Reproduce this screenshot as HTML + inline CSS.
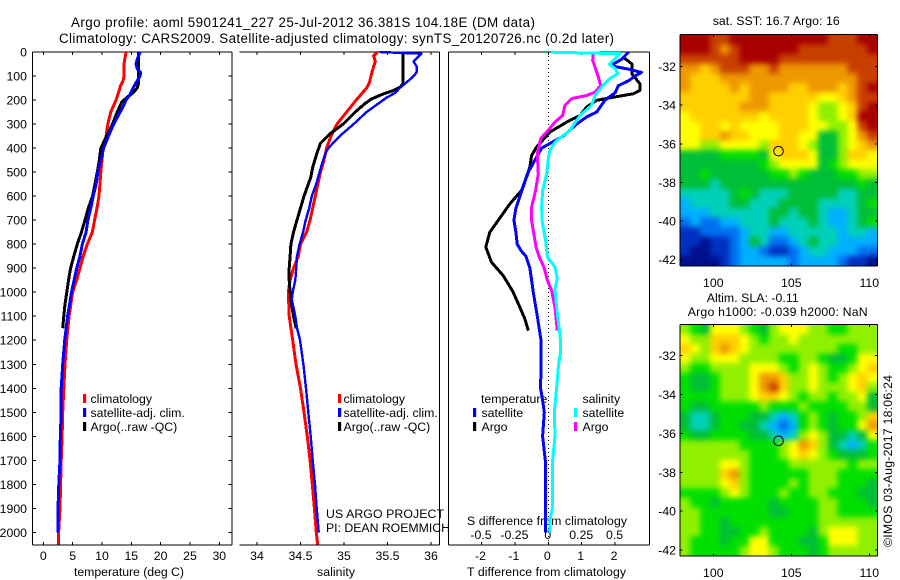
<!DOCTYPE html>
<html>
<head>
<meta charset="utf-8">
<title>Argo profile 5901241_227</title>
<style>
html,body{margin:0;padding:0;background:#fff;}
svg{display:block;}
text{font-family:"Liberation Sans",Arial,sans-serif;font-size:12.3px;fill:#000;}
</style>
</head>
<body>
<svg id="fig" width="900" height="580" viewBox="0 0 900 580" xmlns="http://www.w3.org/2000/svg">
<defs>
<filter id="smooth" filterUnits="userSpaceOnUse" x="640" y="0" width="260" height="580" color-interpolation-filters="sRGB"><feGaussianBlur stdDeviation="3"/></filter>
<clipPath id="clip-sst-map"><rect x="680" y="34.3" width="197.3" height="231.7"/></clipPath>
<clipPath id="clip-sla-map"><rect x="680" y="324.3" width="197.3" height="231.7"/></clipPath>
</defs>
<rect x="0" y="0" width="900" height="580" fill="#fff"/>
<text x="71" y="27" textLength="464" style="font-size:13.4px">Argo profile: aoml 5901241_227 25-Jul-2012 36.381S 104.18E (DM data)</text>
<text x="59" y="43" textLength="555" style="font-size:13.4px">Climatology: CARS2009. Satellite-adjusted climatology: synTS_20120726.nc (0.2d later)</text>
<text x="74" y="576" textLength="110">temperature (deg C)</text>
<text x="317" y="576" textLength="38">salinity</text>
<text x="467" y="576" textLength="159">T difference from climatology</text>
<text x="467" y="525" textLength="160">S difference from climatology</text>
<text x="326" y="518" textLength="118">US ARGO PROJECT</text>
<text x="326" y="532" textLength="124">PI: DEAN ROEMMICH</text>
<text x="90.5" y="403">climatology</text>
<text x="90.5" y="417">satellite-adj. clim.</text>
<text x="90.5" y="431">Argo(..raw -QC)</text>
<text x="343.5" y="403">climatology</text>
<text x="343.5" y="417">satellite-adj. clim.</text>
<text x="343.5" y="431">Argo(..raw -QC)</text>
<text x="481" y="403">temperature</text>
<text x="481.5" y="417">satellite</text>
<text x="481.5" y="431">Argo</text>
<text x="582.5" y="403">salinity</text>
<text x="582.5" y="417">satellite</text>
<text x="582.5" y="431">Argo</text>
<text x="712.7" y="25" textLength="127">sat. SST: 16.7 Argo: 16</text>
<text x="706.7" y="302" textLength="92">Altim. SLA: -0.11</text>
<text x="687.7" y="316" textLength="180">Argo h1000: -0.039 h2000: NaN</text>
<text transform="translate(892,547) rotate(-90)" textLength="172">©IMOS 03-Aug-2017 18:06:24</text>
</svg>
<script>
// ---------- tick labels ----------
const depthTicks = [0,100,200,300,400,500,600,700,800,900,1000,1100,1200,1300,1400,1500,1600,1700,1800,1900,2000];
const tempTicks = [0,5,10,15,20,25,30];
const salTicks = [34,34.5,35,35.5,36];
const tDiffTicks = [-2,-1,0,1,2];
const sDiffTicks = [-0.5,-0.25,0,0.25,0.5];
const sDiffLabels = ['-0.5','-0.25','0','0.25','0.5'];
const lonTicks = [100,105,110];
const latTicks = [-32,-34,-36,-38,-40,-42];
const floatLon = [104.18];
const floatLat = [-36.381];

// ---------- temperature profiles ----------
const tempClimDepth = [0,50,100,120,140,200,250,300,350,400,450,500,600,650,700,750,800,850,900,950,1000,1100,1200,1300,1400,1500,1600,1700,1800,1900,2000,2050];
const tempClimValues = [14.1,13.75,13.75,13.6,13.2,12.4,11.5,11.0,10.7,10.2,10.0,9.8,9.5,9.15,8.75,8.35,7.5,6.8,6.25,5.7,5.0,4.4,3.98,3.7,3.5,3.3,3.2,3.05,2.95,2.85,2.6,2.55];
const tempSatDepth = [0,30,50,70,85,100,120,150,180,200,220,250,300,350,400,450,500,550,600,650,700,750,800,850,900,1000,1100,1200,1300,1400,1500,1600,1700,1800,1900,2000];
const tempSatValues = [16.5,16.0,15.8,16.0,16.6,16.5,16.0,15.3,14.7,14.1,13.75,13.1,12.0,11.1,10.3,9.8,9.3,9.0,8.5,8.1,7.6,7.3,6.65,6.25,5.7,4.8,4.15,3.65,3.3,3.05,3.05,2.9,2.85,2.65,2.5,2.5];
const tempArgoDepth = [0,130,150,170,190,210,250,300,350,400,450,500,600,650,700,750,800,850,900,950,1000,1050,1100,1150];
const tempArgoValues = [16.25,16.25,16.0,15.3,14.2,13.35,12.6,11.8,10.8,9.8,9.55,9.2,8.4,7.67,7.1,6.5,5.8,5.2,4.65,4.3,4.0,3.7,3.5,3.3];

// ---------- salinity profiles ----------
const salClimDepth = [0,15,40,60,100,130,150,200,250,300,350,400,450,500,550,600,650,700,750,800,850,900,950,1000,1050,1100,1200,1300,1400,1500,1600,1700,1800,1900,2000,2050];
const salClimValues = [35.39,35.34,35.36,35.34,35.31,35.29,35.26,35.14,35.03,34.92,34.85,34.80,34.77,34.73,34.70,34.67,34.64,34.61,34.57,34.50,34.475,34.42,34.38,34.36,34.365,34.37,34.41,34.448,34.50,34.54,34.578,34.61,34.636,34.66,34.682,34.697];
const salSatDepth = [0,7,40,60,85,100,120,150,170,190,220,250,300,350,400,420,450,500,550,600,650,700,750,800,850,900,950,1000,1030,1100,1150,1200,1300,1400,1500,1600,1700,1800,1900,2000];
const salSatValues = [35.41,35.89,35.80,35.835,35.835,35.80,35.74,35.64,35.59,35.49,35.375,35.26,35.11,34.95,34.82,34.79,34.76,34.72,34.68,34.63,34.60,34.56,34.53,34.49,34.46,34.45,34.44,34.41,34.40,34.44,34.46,34.494,34.533,34.563,34.59,34.617,34.64,34.667,34.686,34.709];
const salArgoDepth = [0,130,145,160,175,195,215,250,300,340,380,420,480,520,570,600,650,700,750,800,850,900,950,1000,1030,1100,1150];
const salArgoValues = [35.68,35.68,35.65,35.57,35.45,35.32,35.24,35.13,34.99,34.84,34.73,34.69,34.64,34.62,34.57,34.54,34.50,34.46,34.42,34.39,34.38,34.37,34.37,34.38,34.39,34.42,34.45];

// ---------- differences from climatology ----------
const tDiffSatDepth = [0,30,50,60,70,85,100,120,140,170,200,250,270,300,350,400,450,500,600,650,700,750,800,830,850,900,1000,1100,1200,1300,1400,1450,1500,1600,1700,1800,1900,2000];
const tDiffSatValues = [2.4,2.2,1.95,1.97,2.35,2.79,2.6,2.4,2.1,2.0,1.7,1.45,1.15,0.85,0.45,-0.2,-0.4,-0.6,-0.85,-0.97,-1.03,-0.97,-0.93,-0.8,-0.67,-0.55,-0.45,-0.33,-0.22,-0.22,-0.23,-0.17,-0.12,-0.17,-0.09,-0.08,-0.08,-0.08];
const tDiffArgoDepth = [21,49,90,132,160,174,188,201,229,264,292,333,396,431,479,576,632,701,750,812,875,931,1000,1063,1111,1160];
const tDiffArgoValues = [2.23,2.5,2.5,2.74,2.74,2.54,1.95,1.45,1.15,0.95,0.55,0.05,-0.35,-0.5,-0.55,-0.8,-1.15,-1.5,-1.75,-1.87,-1.7,-1.35,-1.05,-0.85,-0.7,-0.6];
const sDiffSatDepth = [1,7,28,51,69,90,111,139,181,222,264,326,375,410,444,507,576,646,708,785,854,896,944,986,1063,1200,1250,1300,1400,1500,1600,1700,1800,1900,1950,2000];
const sDiffSatValues = [0.02,0.536,0.5,0.457,0.5,0.52,0.46,0.41,0.35,0.324,0.237,0.162,0.05,0.012,0,-0.012,-0.042,-0.05,-0.045,-0.02,-0.007,0.05,0.067,0.05,0.062,0.092,0.092,0.077,0.062,0.045,0.05,0.032,0.03,0.03,0.0125,0.0125];
const sDiffArgoDepth = [7,35,63,104,139,167,181,194,222,264,292,333,361,424,507,576,646,701,743,812,854,896,951,993,1063,1160];
const sDiffArgoValues = [0.337,0.332,0.35,0.374,0.392,0.35,0.287,0.175,0.125,0.107,0.05,-0.012,-0.057,-0.082,-0.075,-0.095,-0.125,-0.125,-0.112,-0.092,-0.067,-0.032,-0.007,0.025,0.05,0.067];

// ---------- map grids (colour-scale level, north row first) ----------
const sstGrid = [
[12,12,12,11,11,12,12,12,12,12,12,12,12,12,12,11,11,11,12,12],
[12,12,12,11,10,11,12,12,12,12,12,12,11,11,11,11,11,11,11,12],
[11,11,11,11,11,11,12,12,12,12,11,11,11,11,11,11,11,11,11,11],
[10,10,9,10,11,11,11,10,10,11,10,10,10,10,10,10,10,11,11,11],
[10,9,9,9,10,10,10,10,10,10,10,10,10,10,10,10,10,10,11,11],
[10,9,9,9,9,10,9,10,10,10,10,9,9,10,10,10,9,10,11,12],
[9,9,9,9,9,9,9,10,10,9,9,9,9,9,8,8,9,10,11,11],
[9,9,9,9,9,9,10,10,10,9,9,9,9,8,7,7,8,9,11,12],
[8,9,9,9,9,9,9,9,8,9,9,9,9,8,7,7,8,9,12,12],
[8,8,9,9,8,9,8,8,8,8,9,9,9,8,8,7,7,8,11,12],
[8,8,9,9,10,9,9,8,8,8,9,9,8,8,5,5,7,8,10,11],
[8,8,7,7,8,8,8,8,7,9,9,9,8,7,5,5,7,8,9,10],
[5,5,5,5,6,6,6,6,5,8,9,9,9,8,5,5,7,9,9,8],
[5,5,5,5,5,5,5,5,6,7,8,8,8,8,5,6,7,8,8,8],
[5,5,6,5,5,5,5,5,5,6,6,7,6,5,5,5,6,6,7,7],
[5,5,5,4,5,5,5,5,5,5,5,5,5,5,5,5,5,5,6,5],
[4,4,4,4,4,5,6,5,4,4,4,5,5,5,5,5,4,4,5,5],
[3,4,4,4,4,5,5,4,4,4,5,5,5,5,4,4,4,4,5,6],
[3,3,3,4,4,4,4,4,4,5,5,4,5,5,4,3,3,4,5,5],
[2,3,2,2,3,3,4,4,4,5,4,4,4,5,4,3,3,4,5,6],
[1,1,2,2,2,2,3,4,4,3,3,4,4,4,4,4,3,4,4,3],
[1,1,0,1,1,2,3,5,4,2,2,3,4,5,4,4,3,3,3,3],
[1,0,0,1,1,2,3,3,2,1,1,2,3,4,4,3,3,3,2,2],
[0,0,0,0,1,2,3,3,3,3,3,2,3,3,3,3,2,1,1,0]
];
const slaGrid = [
[7,6,5,8,8,8,7,6,5,7,8,8,8,7,7,6,6,7,7,7],
[8,7,7,9,9,9,8,7,6,7,7,8,7,7,7,7,7,7,7,7],
[9,8,7,9,10,9,8,7,7,7,7,7,7,7,7,7,6,6,7,7],
[8,7,7,8,8,8,7,7,7,7,6,6,7,7,6,5,5,6,8,8],
[7,6,6,7,7,7,7,8,8,8,7,6,7,8,7,6,6,7,8,9],
[6,5,5,6,7,7,7,8,10,10,9,7,7,8,7,6,7,8,9,8],
[6,5,5,6,7,7,7,8,10,11,9,7,7,8,7,7,7,8,9,7],
[6,6,6,6,7,7,7,8,9,9,8,7,6,7,7,6,7,7,8,5],
[6,5,5,6,6,6,6,6,7,6,6,6,7,6,6,6,6,7,7,5],
[5,4,4,5,6,6,6,5,5,4,3,4,6,7,6,5,6,6,7,9],
[5,4,4,5,6,6,5,5,4,3,2,3,6,7,6,5,6,6,8,10],
[6,5,5,6,6,6,6,5,5,4,3,4,7,8,7,5,5,4,5,8],
[7,7,7,7,7,7,6,6,6,6,7,8,10,9,7,5,4,3,4,6],
[7,7,7,7,7,7,7,6,6,6,7,8,9,8,7,6,5,5,5,6],
[7,7,7,7,8,8,7,6,6,6,6,7,7,7,7,7,7,6,7,7],
[7,7,7,7,9,10,7,6,6,6,6,6,6,7,7,7,6,6,6,6],
[7,7,7,7,8,9,7,6,6,6,6,7,6,7,7,7,6,6,6,5],
[6,6,6,6,7,8,7,6,6,6,7,6,6,7,7,6,6,6,5,5],
[7,6,6,5,6,6,6,6,6,5,6,6,6,6,7,7,6,6,6,5],
[7,7,6,6,6,6,6,6,6,5,5,6,6,6,7,7,6,6,6,6],
[7,7,6,6,5,6,6,6,6,6,6,6,6,6,7,7,7,7,7,7],
[7,7,6,6,5,5,6,6,7,6,6,6,6,5,7,8,8,8,7,7],
[7,6,6,6,5,6,6,8,8,6,6,6,5,5,6,8,8,8,7,7],
[7,6,6,6,6,6,7,8,8,7,6,6,6,5,6,7,7,7,7,7]
];
const colourScale = ['#000f8c','#0030c0','#0070f0','#00b0ff','#00d0b8','#00be38','#00e000','#90f000','#ffff00','#ffd000','#ee9800','#c84000','#a80000'];

// ---------- scales ----------
const SVGNS = 'http://www.w3.org/2000/svg';
const fig = document.getElementById('fig');
const PLOT_TOP = 52, PLOT_BOTTOM = 545;
function yDepth(d){ return PLOT_TOP + d * 0.2402; }
function xTemp(t){ return 43.3 + t * 5.867; }
function xSal(s){ return 257 + (s - 34) * 87; }
function xTDiff(t){ return 548.3 + t * 33.4; }
function xSDiff(s){ return 548.3 + s * 133.6; }
function xLon(lon){ return 713.3 + (lon - 100) * 15.6; }
function yLatTop(lat){ return 66.7 + (-32 - lat) * 19.27; }
function yLatBottom(lat){ return 355.7 + (-32 - lat) * 19.43; }

function make(tag, name, parent){
  const el = document.createElementNS(SVGNS, tag);
  
  
  (parent || fig).appendChild(el);
  return el;
}
function seg(name, x1, y1, x2, y2, w, parent){
  const l = make('line', name, parent);
  l.setAttribute('x1', x1); l.setAttribute('y1', y1);
  l.setAttribute('x2', x2); l.setAttribute('y2', y2);
  l.setAttribute('stroke', '#000');
  l.setAttribute('stroke-width', w || 1);
  l.setAttribute('shape-rendering', 'crispEdges');
  return l;
}
function label(name, str, x, y, anchor){
  const t = make('text', name);
  t.setAttribute('x', x); t.setAttribute('y', y);
  t.setAttribute('text-anchor', anchor || 'middle');
  t.textContent = str;
  return t;
}
function profile(name, depths, values, xFn, colour, width){
  const p = make('polyline', name);
  p.setAttribute('points', depths.map((d, i) => xFn(values[i]).toFixed(1) + ',' + yDepth(d).toFixed(1)).join(' '));
  p.setAttribute('fill', 'none');
  p.setAttribute('stroke', colour);
  p.setAttribute('stroke-width', width);
  p.setAttribute('stroke-linejoin', 'round');
  p.setAttribute('shape-rendering', 'crispEdges');
}
function key(name, x, y, colour){
  const r = make('rect', name);
  r.setAttribute('x', x); r.setAttribute('y', y);
  r.setAttribute('width', 3.2); r.setAttribute('height', 9);
  r.setAttribute('fill', colour);
}
function heatmap(name, clipId, grid, x0, y0, w, h){
  const clip = make('g', name + '-clip');
  clip.setAttribute('clip-path', 'url(#' + clipId + ')');
  const g = make('g', name, clip);
  g.setAttribute('filter', 'url(#smooth)');
  const rows = grid.length, cols = grid[0].length;
  const bleed = 16;
  grid.forEach((row, r) => row.forEach((v, c) => {
    const cell = make('rect', name + '-cell', g);
    const x1 = x0 + c * w / cols - (c === 0 ? bleed : 0);
    const x2 = x0 + (c + 1) * w / cols + (c === cols - 1 ? bleed : 0);
    const y1 = y0 + r * h / rows - (r === 0 ? bleed : 0);
    const y2 = y0 + (r + 1) * h / rows + (r === rows - 1 ? bleed : 0);
    cell.setAttribute('x', x1.toFixed(2));
    cell.setAttribute('y', y1.toFixed(2));
    cell.setAttribute('width', (x2 - x1 + 0.4).toFixed(2));
    cell.setAttribute('height', (y2 - y1 + 0.4).toFixed(2));
    cell.setAttribute('fill', colourScale[Math.max(0, Math.min(colourScale.length - 1, Math.round(v)))]);
  }));
}
function frame(name, x1, y1, x2, y2, showLeft){
  seg(name + '-top', x1, y1, x2, y1);
  seg(name + '-bottom', x1, y2, x2, y2);
  seg(name + '-right', x2, y1, x2, y2);
  if (showLeft) seg(name + '-left', x1, y1, x1, y2);
}

// ---------- panel 1: temperature ----------
frame('temperature-frame', 32.5, PLOT_TOP, 232, PLOT_BOTTOM, true);
depthTicks.forEach(d => {
  seg('depth-tick-left', 32.5, yDepth(d), 36, yDepth(d));
  seg('depth-tick-right', 228.5, yDepth(d), 232, yDepth(d));
  label('depth-tick-label', String(d), 27, yDepth(d) + 4.5, 'end');
});
tempTicks.forEach(t => {
  seg('temp-tick-top', xTemp(t), PLOT_TOP, xTemp(t), PLOT_TOP + 3);
  seg('temp-tick-bottom', xTemp(t), PLOT_BOTTOM - 3, xTemp(t), PLOT_BOTTOM);
  label('temp-tick-label', String(t), xTemp(t), 560);
});
profile('temp-climatology-line', tempClimDepth, tempClimValues, xTemp, '#ff0000', 3);
profile('temp-argo-line', tempArgoDepth, tempArgoValues, xTemp, '#000000', 3);
profile('temp-satellite-line', tempSatDepth, tempSatValues, xTemp, '#0000ff', 3);
key('temp-key-climatology', 83, 394, '#ff0000');
key('temp-key-satellite', 83, 408, '#0000ff');
key('temp-key-argo', 83, 422, '#000000');

// ---------- panel 2: salinity ----------
frame('salinity-frame', 239.3, PLOT_TOP, 439.3, PLOT_BOTTOM, false);
salTicks.forEach(s => {
  seg('sal-tick-top', xSal(s), PLOT_TOP, xSal(s), PLOT_TOP + 3);
  seg('sal-tick-bottom', xSal(s), PLOT_BOTTOM - 3, xSal(s), PLOT_BOTTOM);
  label('sal-tick-label', String(s), xSal(s), 560);
});
profile('sal-climatology-line', salClimDepth, salClimValues, xSal, '#ff0000', 3);
profile('sal-argo-line', salArgoDepth, salArgoValues, xSal, '#000000', 3);
profile('sal-satellite-line', salSatDepth, salSatValues, xSal, '#0000ff', 2.4);
key('sal-key-climatology', 338, 394, '#ff0000');
key('sal-key-satellite', 338, 408, '#0000ff');
key('sal-key-argo', 338, 422, '#000000');

// ---------- panel 3: differences ----------
frame('difference-frame', 448.3, PLOT_TOP, 649.3, PLOT_BOTTOM, true);
tDiffTicks.forEach(t => {
  seg('t-diff-tick-top', xTDiff(t), PLOT_TOP, xTDiff(t), PLOT_TOP + 3);
  seg('t-diff-tick-bottom', xTDiff(t), PLOT_BOTTOM - 3, xTDiff(t), PLOT_BOTTOM);
  label('t-diff-tick-label', String(t), xTDiff(t) - 1, 560);
});
sDiffTicks.forEach((s, i) => {
  label('s-diff-tick-label', sDiffLabels[i], xSDiff(s) - 0.5, 539);
});
const zero = seg('zero-reference-line', xTDiff(0), PLOT_TOP, xTDiff(0), PLOT_BOTTOM);
zero.setAttribute('stroke-dasharray', '1 3');
profile('t-diff-argo-line', tDiffArgoDepth, tDiffArgoValues, xTDiff, '#000000', 3);
profile('t-diff-satellite-line', tDiffSatDepth, tDiffSatValues, xTDiff, '#0000ff', 3);
profile('s-diff-argo-line', sDiffArgoDepth, sDiffArgoValues, xSDiff, '#ff00ff', 3);
profile('s-diff-satellite-line', sDiffSatDepth, sDiffSatValues, xSDiff, '#00ffff', 3);
key('diff-key-t-satellite', 473, 408, '#0000ff');
key('diff-key-t-argo', 473, 422, '#000000');
key('diff-key-s-satellite', 574, 408, '#00ffff');
key('diff-key-s-argo', 574, 422, '#ff00ff');

// ---------- maps ----------
function mapPanel(prefix, clipId, grid, top, bottom, yFn){
  heatmap(prefix + '-heatmap', clipId, grid, 680.5, top + 0.5, 196.5, bottom - top - 1);
  frame(prefix + '-frame', 680, top, 877.3, bottom, true);
  lonTicks.forEach(lon => {
    seg(prefix + '-lon-tick-top', xLon(lon), top, xLon(lon), top + 2.5);
    seg(prefix + '-lon-tick-bottom', xLon(lon), bottom, xLon(lon), bottom - 2.5);
    label(prefix + '-lon-label', String(lon), xLon(lon), bottom + 21);
  });
  latTicks.forEach(lat => {
    seg(prefix + '-lat-tick-left', 680, yFn(lat), 682.5, yFn(lat));
    seg(prefix + '-lat-tick-right', 874.8, yFn(lat), 877.3, yFn(lat));
    label(prefix + '-lat-label', String(lat), 676, yFn(lat) + 4.5, 'end');
  });
  const c = make('circle', prefix + '-float-marker');
  c.setAttribute('cx', xLon(floatLon[0]));
  c.setAttribute('cy', yFn(floatLat[0]));
  c.setAttribute('r', 4.8);
  c.setAttribute('fill', 'none');
  c.setAttribute('stroke', '#000');
  c.setAttribute('stroke-width', 1);
}
mapPanel('sst-map', 'clip-sst-map', sstGrid, 34.3, 266, yLatTop);
mapPanel('sla-map', 'clip-sla-map', slaGrid, 324.3, 556, yLatBottom);
</script>
</body>
</html>
